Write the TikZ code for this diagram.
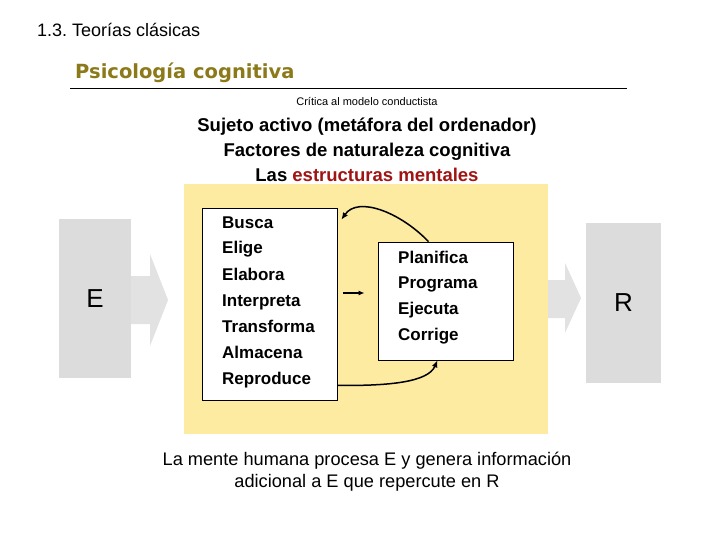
\documentclass[tikz,border=0pt]{standalone}
\usepackage{fontspec}
\setmainfont{Liberation Sans}
\newfontfamily\titlefont{DejaVu Sans}
\usetikzlibrary{arrows.meta,calc}
\definecolor{olivetitle}{HTML}{8C7A1A}
\definecolor{darkred}{HTML}{A01414}
\definecolor{paleyellow}{HTML}{FDEBA2}
\definecolor{boxgray}{HTML}{DCDCDC}
\definecolor{arrgray}{HTML}{E2E2E2}
\frenchspacing
\begin{document}
\begin{tikzpicture}[x=1pt,y=-1pt,
  listtxt/.style={inner sep=0pt,anchor=base west,font=\bfseries\fontsize{17}{20}\selectfont},
  headtxt/.style={inner sep=0pt,anchor=base,font=\bfseries\fontsize{18.5}{22}\selectfont},
  whitebox/.style={draw=black,fill=white,line width=0.8pt},
  conn/.style={line width=1.5pt,-{Latex[length=7pt,width=6pt]}}]
\useasboundingbox (0,0) rectangle (720,540);
\fill[white] (0,0) rectangle (720,540);
% headings
\node[inner sep=0pt,anchor=base west,font=\fontsize{18}{20}\selectfont] (sec) at (37,37) {1.3. Teorías clásicas};
\node[inner sep=0pt,anchor=base west,text=olivetitle,font=\titlefont\bfseries\fontsize{19.5}{22}\selectfont] (ttl) at (75,79) {Psicología cognitiva};
\draw[line width=0.8pt] (70,88) -- (627,88);
\node[inner sep=0pt,anchor=base,font=\fontsize{11}{12}\selectfont] (crit) at (367,106) {Crítica al modelo conductista};
\node[headtxt] (suj) at (367,132) {Sujeto activo (metáfora del ordenador)};
\node[headtxt] (fac) at (367,157) {Factores de naturaleza cognitiva};
\node[headtxt] (las) at (367,182) {Las \textcolor{darkred}{estructuras mentales}};
% yellow area
\fill[paleyellow] (184,184) rectangle (548,434);
% E and R blocks
\node[fill=boxgray,minimum width=72pt,minimum height=159pt,inner sep=0pt,font=\fontsize{26}{28}\selectfont] (E) at (95,298.5) {E};
\node[fill=boxgray,minimum width=75pt,minimum height=160pt,inner sep=0pt,font=\fontsize{26}{28}\selectfont] (R) at (623.5,303) {R};
% block arrows
\fill[arrgray] (E.east |- 0,276) -- (150,276) -- (150,254) -- (168,300) -- (150,346) -- (150,324) -- (E.east |- 0,324) -- cycle;
\fill[arrgray] (548,280) -- (565,280) -- (565,263) -- (581,298) -- (565,333) -- (565,318) -- (548,318) -- cycle;
% white boxes
\node[whitebox,minimum width=135pt,minimum height=192pt,inner sep=0pt] (lbox) at (269.5,304) {};
\node[whitebox,minimum width=135pt,minimum height=118pt,inner sep=0pt] (rbox) at (445.5,301) {};
\node[listtxt] (l1) at (222,229) {Busca};
\node[listtxt] (l2) at (222,254) {Elige};
\node[listtxt] (l3) at (222,280) {Elabora};
\node[listtxt] (l4) at (222,306) {Interpreta};
\node[listtxt] (l5) at (222,332) {Transforma};
\node[listtxt] (l6) at (222,358) {Almacena};
\node[listtxt] (l7) at (222,384) {Reproduce};
\node[listtxt] (r1) at (398,263) {Planifica};
\node[listtxt] (r2) at (398,288) {Programa};
\node[listtxt] (r3) at (398,314) {Ejecuta};
\node[listtxt] (r4) at (398,340) {Corrige};
% connectors
\coordinate (a1) at ($(lbox.east)+(6,-11)$);
\coordinate (a2) at ($(rbox.west)+(-13,-8)$);
\draw[line width=1.4pt,-{Latex[length=6pt,width=5pt]}] (a1) -- (a2);
\coordinate (t1) at ($(rbox.north)+(-17,0)$);
\coordinate (t2) at ($(lbox.north east)+(4,12)$);
\draw[conn] (t1) .. controls (400,212) and (358,196) .. (t2);
\coordinate (b1) at ($(lbox.south east)+(0,-15)$);
\coordinate (b2) at ($(rbox.south)+(-8,0)$);
\draw[conn] (b1) .. controls (390,386) and (428,382) .. (b2);
% bottom text
\node[inner sep=0pt,font=\fontsize{18.2}{22}\selectfont,align=center] (bot) at (367,472) {La mente humana procesa E y genera información\\adicional a E que repercute en R};
\end{tikzpicture}
\end{document}
